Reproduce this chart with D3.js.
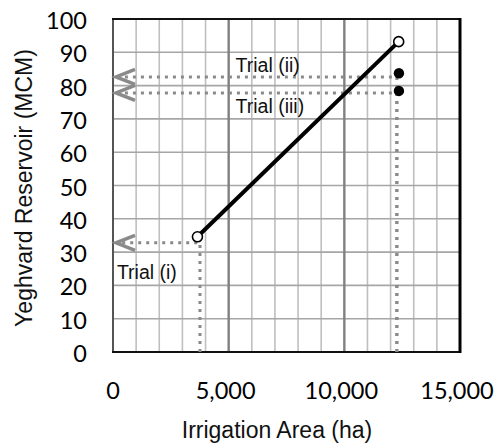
<!DOCTYPE html>
<html><head><meta charset="utf-8">
<script src="https://cdn.jsdelivr.net/npm/d3@7"></script>
<style>html,body{margin:0;padding:0;background:#fff}</style>
</head><body>
<svg id="c" width="497" height="446"></svg>
<script>
// ---- data ----
const xTicks = [0, 5000, 10000, 15000];
const yTicks = [0, 10, 20, 30, 40, 50, 60, 70, 80, 90, 100];
const xMinor = d3.range(0, 15001, 1000);
const lineX = [3650, 12350];
const lineY = [34.6, 93.2];
const trialX = [12360, 12360];
const trialY = [83.7, 78.4];
const guideLabels = ["Trial (i)", "Trial (ii)", "Trial (iii)"];
const guideX = [3760, 12270, 12270];
const guideY = [32.8, 82.6, 77.8];
const xTitle = "Irrigation Area (ha)";
const yTitle = "Yeghvard Reservoir (MCM)";

// ---- layout ----
const L = 113, R = 460, T = 19, B = 352;
const svg = d3.select("#c");
const x = d3.scaleLinear().domain([0, 15000]).range([L, R]);
const y = d3.scaleLinear().domain([0, 100]).range([B, T]);
const fmt = d3.format(",");

// gridlines
const g = svg.append("g");
g.selectAll("line.minor").data(xMinor.filter(v => v % 5000 !== 0)).join("line")
  .attr("x1", d => x(d)).attr("x2", d => x(d)).attr("y1", T).attr("y2", B)
  .attr("stroke", "#bfbfbf").attr("stroke-width", 1.6);
g.selectAll("line.h").data(yTicks.slice(1, -1)).join("line")
  .attr("x1", L).attr("x2", R).attr("y1", d => y(d)).attr("y2", d => y(d))
  .attr("stroke", "#a6a6a6").attr("stroke-width", 1.6);
g.selectAll("line.major").data(xTicks.slice(1, -1)).join("line")
  .attr("x1", d => x(d)).attr("x2", d => x(d)).attr("y1", T).attr("y2", B)
  .attr("stroke", "#808080").attr("stroke-width", 2.4);

// frame
svg.append("line").attr("x1", L).attr("x2", L).attr("y1", T).attr("y2", B).attr("stroke", "#555").attr("stroke-width", 2);
svg.append("line").attr("x1", L - 1).attr("x2", R + 1).attr("y1", T).attr("y2", T).attr("stroke", "#111").attr("stroke-width", 2);
svg.append("line").attr("x1", L - 1).attr("x2", R + 1).attr("y1", B).attr("y2", B).attr("stroke", "#111").attr("stroke-width", 2);
svg.append("line").attr("x1", R).attr("x2", R).attr("y1", T - 1).attr("y2", B + 1).attr("stroke", "#000").attr("stroke-width", 3);

// guide dotted lines & arrows
const gray = "#8a8a8a";
const arrowTip = 130;
guideX.forEach((gx, i) => {
  svg.append("path")
    .attr("d", `M${x(gx)},${y(0)}V${y(guideY[i])}H${x(arrowTip)}`)
    .attr("fill", "none").attr("stroke", gray).attr("stroke-width", 3)
    .attr("stroke-dasharray", "3,5");
  svg.append("path")
    .attr("d", `M${x(arrowTip) + 19},${y(guideY[i]) - 7.5}L${x(arrowTip)},${y(guideY[i])}L${x(arrowTip) + 19},${y(guideY[i]) + 7.5}`)
    .attr("fill", "none").attr("stroke", gray).attr("stroke-width", 3.5);
});

// labels for guides
const labelPos = [[170, 22], [5300, 84], [5300, 71.7]];
guideLabels.forEach((t, i) => {
  svg.append("text").attr("x", x(labelPos[i][0])).attr("y", y(labelPos[i][1]))
    .attr("font-family", "Liberation Sans, Arial, sans-serif").attr("font-size", 19.5)
    .attr("fill", "#111").text(t);
});

// line
const line = d3.line().x(d => x(d[0])).y(d => y(d[1]));
svg.append("path").datum(lineX.map((v, i) => [v, lineY[i]]))
  .attr("d", line).attr("fill", "none").attr("stroke", "#000").attr("stroke-width", 4);
svg.selectAll("circle.open").data(lineX.map((v, i) => [v, lineY[i]])).join("circle")
  .attr("cx", d => x(d[0])).attr("cy", d => y(d[1])).attr("r", 5)
  .attr("fill", "#fff").attr("stroke", "#000").attr("stroke-width", 1.6);
svg.selectAll("circle.fill").data(trialX.map((v, i) => [v, trialY[i]])).join("circle")
  .attr("cx", d => x(d[0])).attr("cy", d => y(d[1])).attr("r", 5.2)
  .attr("fill", "#000");

// tick labels
const tickFont = "Lato, 'Open Sans', sans-serif";
svg.selectAll("text.yt").data(yTicks).join("text")
  .attr("x", 87).attr("y", d => y(d) + 10).attr("text-anchor", "end")
  .attr("font-family", tickFont).attr("font-size", 23.5).attr("fill", "#000")
  .text(d => d);
svg.selectAll("text.xt").data(xTicks).join("text")
  .attr("x", d => x(d) - (d ? 3 : 0)).attr("y", 399).attr("text-anchor", "middle")
  .attr("font-family", tickFont).attr("font-size", 23.5).attr("fill", "#000")
  .text(d => fmt(d));

// axis titles
svg.append("text").attr("x", 277).attr("y", 438).attr("text-anchor", "middle")
  .attr("font-family", "Liberation Sans, Arial, sans-serif").attr("font-size", 23)
  .attr("fill", "#111").text(xTitle);
svg.append("text").attr("transform", "translate(32,188) rotate(-90)").attr("text-anchor", "middle")
  .attr("font-family", "Liberation Sans, Arial, sans-serif").attr("font-size", 23)
  .attr("fill", "#111").text(yTitle);
</script>
</body></html>
